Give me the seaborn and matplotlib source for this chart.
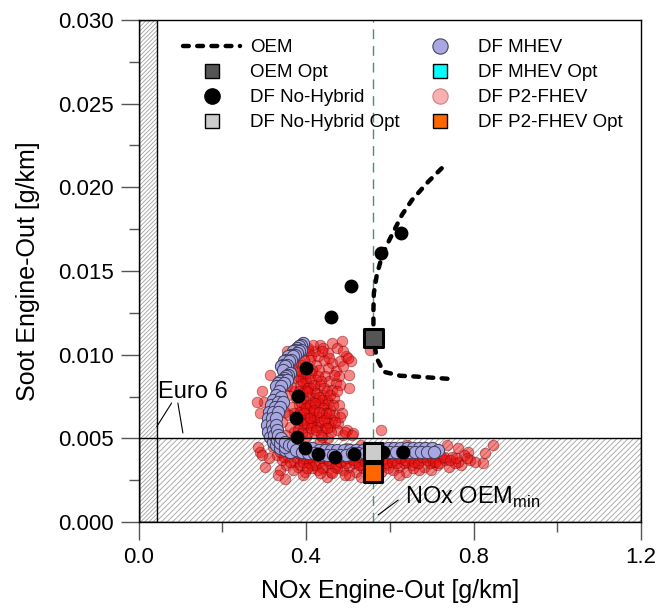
import matplotlib
matplotlib.use("Agg")
import matplotlib.pyplot as plt
from matplotlib.patches import Rectangle
from matplotlib.lines import Line2D
import seaborn as sns
import pandas as pd

# ---------------- data ----------------
oem_nox = [0.724, 0.692, 0.653, 0.629, 0.613, 0.593, 0.581, 0.569, 0.562, 0.561,
           0.561, 0.561, 0.569, 0.585, 0.625, 0.664, 0.704, 0.744]
oem_soot = [0.02114, 0.02034, 0.01924, 0.01835, 0.01755, 0.01655, 0.01586, 0.01476,
            0.01367, 0.01267, 0.01167, 0.01098, 0.00978, 0.00898, 0.00874, 0.00869,
            0.00862, 0.00855]

nohyb_nox = [0.628, 0.580, 0.508, 0.459, 0.399, 0.381, 0.377, 0.378, 0.397, 0.429,
             0.469, 0.514, 0.584, 0.632]
nohyb_soot = [0.01725, 0.01606, 0.01410, 0.01227, 0.00918, 0.00753, 0.00620, 0.00506,
              0.00440, 0.00406, 0.00390, 0.00404, 0.00420, 0.00420]

# optimum points: OEM Opt, DF No-Hybrid Opt, DF MHEV Opt, DF P2-FHEV Opt
opt_labels = ["OEM Opt", "DF No-Hybrid Opt", "DF MHEV Opt", "DF P2-FHEV Opt"]
opt_nox = [0.561, 0.560, 0.560, 0.560]
opt_soot = [0.01098, 0.00420, 0.00420, 0.00295]

mhev_nox = [
    0.393, 0.388, 0.383, 0.378, 0.373, 0.368, 0.363, 0.358, 0.353, 0.348, 0.344, 0.341,
    0.389, 0.384, 0.379, 0.374, 0.369, 0.364, 0.359, 0.354, 0.349, 0.345,
    0.362, 0.357, 0.352, 0.347, 0.342, 0.337, 0.333, 0.329, 0.355, 0.348, 0.340,
    0.336, 0.328, 0.321, 0.316, 0.312, 0.309, 0.308, 0.310, 0.314, 0.320, 0.328, 0.338, 0.350, 0.362,
    0.340, 0.333, 0.327, 0.322, 0.319, 0.318, 0.320, 0.324, 0.330, 0.339, 0.349,
    0.345, 0.339, 0.333, 0.329, 0.328, 0.330, 0.334, 0.341, 0.350, 0.360,
    0.370, 0.385, 0.400, 0.415, 0.430, 0.445, 0.460, 0.475, 0.490, 0.505, 0.520, 0.535,
    0.550, 0.565, 0.580, 0.595, 0.610, 0.625, 0.640, 0.655, 0.670, 0.685, 0.700, 0.715,
    0.375, 0.390, 0.405, 0.420, 0.435, 0.450, 0.465, 0.480, 0.495, 0.510, 0.525, 0.540,
    0.555, 0.570, 0.585, 0.600, 0.615, 0.630, 0.645, 0.660, 0.675, 0.690, 0.705]
mhev_soot = [
    0.0107, 0.0106, 0.0105, 0.0104, 0.0103, 0.0102, 0.0100, 0.0099, 0.0097, 0.0096, 0.0094, 0.0093,
    0.0103, 0.0102, 0.0101, 0.0100, 0.0099, 0.0097, 0.0096, 0.0094, 0.0093, 0.0091,
    0.0089, 0.0088, 0.0087, 0.0086, 0.0085, 0.0084, 0.0083, 0.0081, 0.0085, 0.0083, 0.0081,
    0.0078, 0.0076, 0.0073, 0.0070, 0.0066, 0.0062, 0.0058, 0.0054, 0.0051, 0.0048, 0.0046, 0.0044, 0.0043, 0.0042,
    0.0075, 0.0072, 0.0069, 0.0066, 0.0062, 0.0058, 0.0055, 0.0052, 0.0049, 0.0047, 0.0045,
    0.0072, 0.0069, 0.0066, 0.0062, 0.0058, 0.0055, 0.0052, 0.0050, 0.0048, 0.0046,
    0.0046, 0.0045, 0.0044, 0.0044, 0.0043, 0.0043, 0.0043, 0.0043, 0.0043, 0.0043, 0.0043, 0.0043,
    0.0043, 0.0044, 0.0044, 0.0044, 0.0044, 0.0044, 0.0044, 0.0044, 0.0044, 0.0044, 0.0044, 0.0043,
    0.0043, 0.0042, 0.0041, 0.0041, 0.0040, 0.0040, 0.0040, 0.0040, 0.0040, 0.0041, 0.0041, 0.0041,
    0.0041, 0.0041, 0.0042, 0.0042, 0.0042, 0.0042, 0.0042, 0.0042, 0.0042, 0.0042, 0.0042]

p2_nox = [
    # upper cloud
    0.383, 0.394, 0.404, 0.412, 0.421, 0.433, 0.441, 0.452, 0.463, 0.474, 0.485, 0.496,
    0.502, 0.481, 0.462, 0.443, 0.424, 0.405, 0.392, 0.413, 0.431, 0.452, 0.471, 0.489,
    0.507, 0.446, 0.423, 0.401, 0.386, 0.372, 0.391, 0.412, 0.434, 0.455, 0.472, 0.463,
    0.441, 0.422, 0.403, 0.384, 0.366, 0.372, 0.393, 0.414, 0.432, 0.451, 0.468, 0.479,
    0.458, 0.437, 0.418, 0.398, 0.381, 0.362, 0.371, 0.392, 0.411, 0.429, 0.448, 0.467,
    0.486, 0.477, 0.458, 0.439, 0.419, 0.401, 0.382, 0.498, 0.512, 0.489, 0.452, 0.433,
    0.352, 0.343, 0.351, 0.358, 0.354, 0.368, 0.362, 0.389, 0.409, 0.428, 0.398, 0.418,
    0.442, 0.408, 0.388, 0.426, 0.461, 0.482, 0.387, 0.397, 0.407, 0.416, 0.396, 0.386,
    0.406, 0.414, 0.396, 0.404,
    0.488, 0.500, 0.503, 0.481, 0.405, 0.289, 0.314, 0.294, 0.552, 0.578, 0.473, 0.445,
    0.492, 0.437, 0.510, 0.460, 0.300, 0.354, 0.282,
    # upper cloud core
    0.376, 0.381, 0.387, 0.393, 0.399, 0.404, 0.409, 0.415, 0.419, 0.425, 0.428, 0.432,
    0.436, 0.439, 0.444, 0.449, 0.453, 0.457, 0.377, 0.383, 0.388, 0.392, 0.399, 0.402,
    0.410, 0.417, 0.421, 0.427, 0.435, 0.440, 0.447, 0.452, 0.376, 0.381, 0.387, 0.391,
    0.395, 0.402, 0.409, 0.412, 0.418, 0.423, 0.430, 0.436, 0.444, 0.450, 0.456, 0.465,
    0.470, 0.475, 0.478, 0.466, 0.456, 0.437, 0.417, 0.396, 0.365, 0.370, 0.378, 0.360,
    # lower band
    0.342, 0.371, 0.445, 0.498, 0.531, 0.602, 0.641, 0.683, 0.736, 0.762, 0.786, 0.846, 0.827,
    0.331, 0.358, 0.389, 0.418, 0.447, 0.478, 0.509, 0.538, 0.569, 0.601, 0.629, 0.661,
    0.692, 0.721, 0.749, 0.778,
    0.342, 0.372, 0.401, 0.431, 0.462, 0.491, 0.522, 0.551, 0.583, 0.612, 0.642, 0.673,
    0.703, 0.732, 0.763, 0.792, 0.803, 0.823,
    0.352, 0.381, 0.412, 0.441, 0.471, 0.502, 0.531, 0.562, 0.591, 0.622, 0.652, 0.681,
    0.712, 0.741, 0.771,
    0.368, 0.398, 0.428, 0.459, 0.488, 0.519, 0.548, 0.579, 0.608, 0.638, 0.669, 0.698,
    0.392, 0.451, 0.503, 0.531, 0.621,
    0.365, 0.395, 0.425, 0.455, 0.485, 0.515, 0.545, 0.575, 0.605, 0.635, 0.665, 0.695,
    0.725, 0.755, 0.785, 0.415, 0.475, 0.535, 0.595, 0.655,
    0.302, 0.337, 0.333, 0.349, 0.289, 0.312, 0.322, 0.285, 0.295,
    # lower band core
    0.348, 0.362, 0.378, 0.386, 0.392, 0.406, 0.410, 0.422, 0.436, 0.439, 0.452, 0.466,
    0.469, 0.481, 0.496, 0.499, 0.512, 0.526, 0.528, 0.541, 0.556, 0.559, 0.571, 0.588,
    0.592, 0.606, 0.618, 0.624, 0.636, 0.648, 0.657, 0.668, 0.676, 0.688, 0.701, 0.709,
    0.718, 0.729, 0.745, 0.758, 0.338, 0.355, 0.381, 0.402, 0.433, 0.462, 0.493]
p2_soot = [
    0.0097, 0.0102, 0.0104, 0.0099, 0.0102, 0.0106, 0.0104, 0.0101, 0.0107, 0.0104, 0.0108, 0.0099,
    0.0088, 0.0096, 0.0095, 0.0097, 0.0094, 0.0092, 0.0088, 0.0089, 0.0091, 0.0092, 0.0090, 0.0093,
    0.0096, 0.0087, 0.0085, 0.0083, 0.0081, 0.0078, 0.0077, 0.0080, 0.0082, 0.0084, 0.0083, 0.0079,
    0.0076, 0.0074, 0.0072, 0.0070, 0.0069, 0.0065, 0.0067, 0.0069, 0.0071, 0.0073, 0.0074, 0.0070,
    0.0067, 0.0065, 0.0063, 0.0061, 0.0059, 0.0057, 0.0054, 0.0056, 0.0058, 0.0060, 0.0062, 0.0064,
    0.0065, 0.0059, 0.0057, 0.0055, 0.0053, 0.0051, 0.0050, 0.0055, 0.0053, 0.0052, 0.0050, 0.0048,
    0.0052, 0.0060, 0.0066, 0.0076, 0.0081, 0.0086, 0.0091, 0.0094, 0.0097, 0.0099, 0.0086, 0.0078,
    0.0070, 0.0066, 0.0064, 0.0057, 0.0061, 0.0063, 0.0085, 0.0079, 0.0075, 0.0072, 0.0070, 0.0066,
    0.0063, 0.0060, 0.0058, 0.0054,
    0.0102, 0.0098, 0.0080, 0.0082, 0.0103, 0.0065, 0.0088, 0.0078, 0.0103, 0.0055, 0.0055, 0.0056,
    0.0054, 0.0051, 0.0052, 0.0054, 0.0072, 0.0102, 0.0072,
    0.0090, 0.0087, 0.0090, 0.0083, 0.0089, 0.0080, 0.0086, 0.0091, 0.0082, 0.0077, 0.0087, 0.0075,
    0.0084, 0.0073, 0.0080, 0.0078, 0.0071, 0.0076, 0.0074, 0.0078, 0.0072, 0.0074, 0.0068, 0.0078,
    0.0070, 0.0066, 0.0071, 0.0063, 0.0060, 0.0068, 0.0065, 0.0059, 0.0062, 0.0055, 0.0061, 0.0053,
    0.0065, 0.0059, 0.0062, 0.0056, 0.0067, 0.0055, 0.0066, 0.0052, 0.0061, 0.0056, 0.0065, 0.0070,
    0.0060, 0.0078, 0.0087, 0.0088, 0.0098, 0.0102, 0.0106, 0.0097, 0.0081, 0.0095, 0.0101, 0.0064,
    0.0044, 0.0043, 0.0045, 0.0044, 0.0046, 0.0045, 0.0046, 0.0045, 0.0046, 0.0044, 0.0042, 0.0046, 0.0041,
    0.0040, 0.0039, 0.0040, 0.0039, 0.0038, 0.0038, 0.0039, 0.0040, 0.0039, 0.0040, 0.0039, 0.0040,
    0.0039, 0.0040, 0.0039, 0.0040,
    0.0037, 0.0036, 0.0037, 0.0036, 0.0036, 0.0037, 0.0036, 0.0037, 0.0036, 0.0037, 0.0036, 0.0037,
    0.0036, 0.0037, 0.0036, 0.0037, 0.0036, 0.0035,
    0.0034, 0.0033, 0.0034, 0.0033, 0.0034, 0.0033, 0.0034, 0.0033, 0.0034, 0.0033, 0.0034, 0.0033,
    0.0034, 0.0033, 0.0034,
    0.0031, 0.0030, 0.0031, 0.0030, 0.0031, 0.0030, 0.0031, 0.0030, 0.0031, 0.0030, 0.0031, 0.0031,
    0.0028, 0.0027, 0.0028, 0.0027, 0.0028,
    0.0042, 0.0038, 0.0041, 0.0035, 0.0040, 0.0035, 0.0038, 0.0034, 0.0038, 0.0035, 0.0038, 0.0035,
    0.0038, 0.0035, 0.0038, 0.0032, 0.0032, 0.0032, 0.0032, 0.0032,
    0.0033, 0.0031, 0.0028, 0.0026, 0.0042, 0.0038, 0.0045, 0.0045, 0.0040,
    0.0039, 0.0036, 0.0038, 0.0034, 0.0036, 0.0035, 0.0039, 0.0034, 0.0038, 0.0032, 0.0037, 0.0038,
    0.0033, 0.0036, 0.0035, 0.0038, 0.0037, 0.0034, 0.0039, 0.0036, 0.0035, 0.0039, 0.0037, 0.0038,
    0.0035, 0.0036, 0.0035, 0.0038, 0.0037, 0.0038, 0.0036, 0.0035, 0.0039, 0.0037, 0.0038, 0.0036,
    0.0035, 0.0039, 0.0037, 0.0038, 0.0042, 0.0045, 0.0041, 0.0032, 0.0029, 0.0029, 0.0028]

euro6_nox_limit = 0.045
euro6_soot_limit = 0.005
nox_oem_min = 0.561

x_ticks = [0.0, 0.4, 0.8, 1.2]
y_ticks = [0.000, 0.005, 0.010, 0.015, 0.020, 0.025, 0.030]

# ---------------- style ----------------
sns.set_theme(style="white")
plt.rcParams["font.family"] = ["Liberation Sans", "DejaVu Sans"]
plt.rcParams["mathtext.fontset"] = "custom"
plt.rcParams["mathtext.rm"] = "Liberation Sans"
plt.rcParams["hatch.linewidth"] = 0.6
plt.rcParams["text.color"] = "black"
plt.rcParams["axes.labelcolor"] = "black"
plt.rcParams["xtick.labelcolor"] = "black"
plt.rcParams["ytick.labelcolor"] = "black"

fig = plt.figure(figsize=(6.59, 6.15), dpi=100)
ax = fig.add_axes([0.2102, 0.1512, 0.7625, 0.8163])

# hatched Euro 6 regions
hcol = "#a0a0a0"
ax.add_patch(Rectangle((0, 0), 1.2, euro6_soot_limit, facecolor="white", edgecolor=hcol,
                       hatch="//////", linewidth=0, zorder=0.5))
ax.add_patch(Rectangle((0, 0), euro6_nox_limit, 0.030, facecolor="white", edgecolor=hcol,
                       hatch="////////", linewidth=0, zorder=0.5))

# NOx OEM min line
ax.axvline(nox_oem_min, color="#4f8f66", lw=1.0, ls=(0, (7, 5)), zorder=0.8)

# scatter series
df_p2 = pd.DataFrame({"nox": p2_nox, "soot": p2_soot})
sns.scatterplot(data=df_p2, x="nox", y="soot", ax=ax, s=58, color="#ee1010",
                edgecolor="#7a0000", linewidth=0.6, alpha=0.5, zorder=2, legend=False)

df_mh = pd.DataFrame({"nox": mhev_nox, "soot": mhev_soot})
sns.scatterplot(data=df_mh, x="nox", y="soot", ax=ax, s=78, color="#a9a7e2",
                edgecolor="#3c3c58", linewidth=0.7, zorder=3, legend=False)

# Euro 6 region borders (drawn above the clouds)
ax.add_patch(Rectangle((0, 0), 1.2, euro6_soot_limit, facecolor="none", edgecolor="black",
                       linewidth=1.0, zorder=3.5))
ax.add_patch(Rectangle((0, 0), euro6_nox_limit, 0.030, facecolor="none", edgecolor="black",
                       linewidth=1.0, zorder=3.5))

df_nh = pd.DataFrame({"nox": nohyb_nox, "soot": nohyb_soot})
sns.scatterplot(data=df_nh, x="nox", y="soot", ax=ax, s=100, color="black",
                edgecolor="black", linewidth=0, zorder=4, legend=False)

df_oem = pd.DataFrame({"nox": oem_nox, "soot": oem_soot})
sns.lineplot(data=df_oem, x="nox", y="soot", ax=ax, sort=False, estimator=None,
             color="black", lw=3.2, zorder=5, legend=False)
ax.lines[-1].set_linestyle((0, (1.3, 1.9)))
ax.lines[-1].set_dash_capstyle("round")

opt_colors = ["#555555", "#cccccc", "#00ffff", "#ff6600"]
df_opt = pd.DataFrame({"nox": opt_nox, "soot": opt_soot, "lab": opt_labels})
order = [2, 0, 1, 3]
sns.scatterplot(data=df_opt.iloc[order], x="nox", y="soot", hue="lab",
                palette=dict(zip(opt_labels, opt_colors)), marker="s", s=175,
                edgecolor="black", linewidth=2.2, ax=ax, zorder=6, legend=False)

# axes
ax.set_xlim(0, 1.2)
ax.set_ylim(0, 0.030)
ax.set_xticks(x_ticks)
ax.set_xticklabels([f"{v:.1f}" for v in x_ticks])
ax.set_yticks(y_ticks)
ax.set_yticklabels([f"{v:.3f}" for v in y_ticks])
ax.set_xticks([0.2, 0.6, 1.0], minor=True)
ax.set_yticks([0.0025, 0.0075, 0.0125, 0.0175, 0.0225, 0.0275], minor=True)
ax.tick_params(axis="both", which="major", direction="out", length=13, width=1,
               color="#555555", labelsize=16, pad=5, bottom=True, left=True,
               labelcolor="black")
ax.tick_params(axis="both", which="minor", direction="out", length=7.5, width=1,
               color="#555555", bottom=True, left=True)
for sp in ax.spines.values():
    sp.set_color("black")
    sp.set_linewidth(1.0)
ax.set_xlabel("NOx Engine-Out [g/km]", fontsize=18, labelpad=8, color="black")
ax.set_ylabel("Soot Engine-Out [g/km]", fontsize=18, labelpad=13, color="black")

# annotations
ax.text(0.047, 0.00777, "Euro 6", fontsize=17, va="center", ha="left", zorder=7,
        color="black")
ax.plot([0.079, 0.0435], [0.00711, 0.00570], color="black", lw=0.8, zorder=7)
ax.plot([0.094, 0.106], [0.00711, 0.00532], color="black", lw=0.8, zorder=7)
ax.text(0.636, 0.00149, r"NOx OEM$_\mathregular{min}$", fontsize=17, va="center",
        ha="left", zorder=7, color="black")
ax.plot([0.620, 0.572], [0.00131, 0.00042], color="black", lw=0.8, zorder=7)

# legend
handles = [
    Line2D([], [], color="black", lw=3.2, ls=(0, (1.3, 1.9)), dash_capstyle="round"),
    Line2D([], [], ls="none", marker="s", ms=10.5, mfc="#555555", mec="black", mew=1),
    Line2D([], [], ls="none", marker="o", ms=11, mfc="black", mec="black"),
    Line2D([], [], ls="none", marker="s", ms=10.5, mfc="#cccccc", mec="black", mew=1),
    Line2D([], [], ls="none", marker="o", ms=11, mfc="#a9a7e2", mec="#44445e", mew=0.8),
    Line2D([], [], ls="none", marker="s", ms=10.5, mfc="#00ffff", mec="black", mew=1),
    Line2D([], [], ls="none", marker="o", ms=11, mfc="#f9b0b0", mec="#d08080", mew=0.8),
    Line2D([], [], ls="none", marker="s", ms=10.5, mfc="#ff6600", mec="black", mew=1),
]
labels = ["OEM", "OEM Opt", "DF No-Hybrid", "DF No-Hybrid Opt",
          "DF MHEV", "DF MHEV Opt", "DF P2-FHEV", "DF P2-FHEV Opt"]
leg = ax.legend(handles, labels, ncol=2, frameon=False, fontsize=13.5, loc="upper left",
                bbox_to_anchor=(0.0886, 0.962), handlelength=3.04, handletextpad=0.53,
                labelspacing=0.42, columnspacing=0.62, borderaxespad=0, borderpad=0)
for t in leg.get_texts():
    t.set_color("black")

fig.savefig("out.png", dpi=100)
